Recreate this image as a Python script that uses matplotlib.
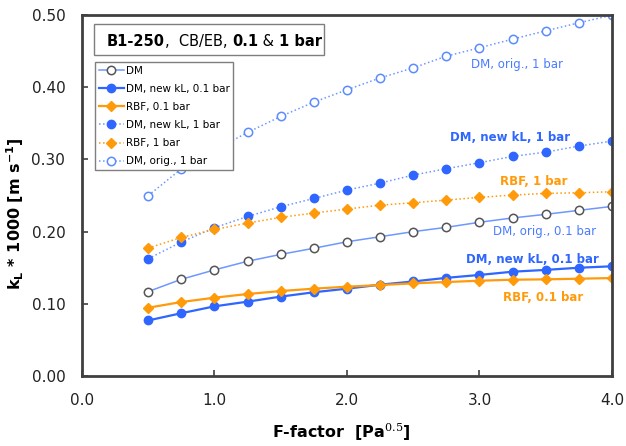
import matplotlib
matplotlib.use("Agg")
import matplotlib.pyplot as plt
from matplotlib.patches import Rectangle
from matplotlib.ticker import FormatStrFormatter, MultipleLocator

plt.rcParams['font.family'] = ['DejaVu Sans']
plt.rcParams['mathtext.fontset'] = 'custom'
plt.rcParams['mathtext.rm'] = 'DejaVu Serif'
plt.rcParams['mathtext.bf'] = 'DejaVu Sans:bold'
plt.rcParams['mathtext.it'] = 'DejaVu Sans:italic'

# F-factor [Pa^0.5]
f_factor = [0.5, 0.75, 1.0, 1.25, 1.5, 1.75, 2.0, 2.25, 2.5, 2.75, 3.0, 3.25, 3.5, 3.75, 4.0]

# kL * 1000 [m/s]
dm_orig_01 = [0.117, 0.134, 0.147, 0.159, 0.1685, 0.177, 0.186, 0.193, 0.200, 0.206,
              0.213, 0.219, 0.224, 0.2295, 0.235]
dm_new_01 = [0.077, 0.087, 0.0965, 0.103, 0.110, 0.116, 0.121, 0.1265, 0.131, 0.136,
             0.140, 0.1445, 0.147, 0.150, 0.152]
rbf_01 = [0.0946, 0.1025, 0.1085, 0.1136, 0.1177, 0.121, 0.1237, 0.126, 0.1284, 0.1302,
          0.132, 0.1334, 0.1339, 0.1348, 0.1357]
dm_new_1 = [0.1625, 0.1856, 0.2054, 0.2211, 0.2345, 0.246, 0.2576, 0.2673, 0.2784, 0.2872,
            0.2955, 0.3043, 0.3102, 0.3186, 0.3255]
rbf_1 = [0.1773, 0.192, 0.203, 0.2119, 0.2198, 0.2258, 0.2313, 0.2368, 0.240, 0.2438,
         0.2475, 0.2507, 0.253, 0.2539, 0.2553]
dm_orig_1 = [0.25, 0.287, 0.313, 0.3375, 0.3597, 0.3795, 0.3966, 0.413, 0.427, 0.4432,
             0.4548, 0.4668, 0.4783, 0.4894, 0.500]

blue = '#2f66ff'
light_blue = '#6e98ff'
orange = '#ff9a0a'
dark = '#404040'

fig = plt.figure(figsize=(6.26, 4.46), dpi=100)
ax = fig.add_axes([0.131, 0.157, 0.8466, 0.809])

ax.plot(f_factor, dm_orig_01, '-', color=light_blue, lw=1.1, marker='o', ms=6,
        mfc='white', mec='#555555', mew=1.1, label='DM')
ax.plot(f_factor, dm_new_01, '-', color=blue, lw=1.6, marker='o', ms=6,
        mfc=blue, mec=blue, label='DM, new kL, 0.1 bar')
ax.plot(f_factor, rbf_01, '-', color=orange, lw=1.6, marker='D', ms=4.8,
        mfc=orange, mec=orange, label='RBF, 0.1 bar')
ax.plot(f_factor, dm_new_1, ':', color=light_blue, lw=1.1, marker='o', ms=6,
        mfc=blue, mec=blue, label='DM, new kL, 1 bar')
ax.plot(f_factor, rbf_1, ':', color=orange, lw=1.1, marker='D', ms=4.8,
        mfc=orange, mec=orange, label='RBF, 1 bar')
ax.plot(f_factor, dm_orig_1, ':', color=light_blue, lw=1.1, marker='o', ms=6,
        mfc='white', mec='#5b8cff', mew=1.1, label='DM, orig., 1 bar')

ax.set_xlim(0, 4)
ax.set_ylim(0, 0.5)
ax.xaxis.set_major_locator(MultipleLocator(1.0))
ax.yaxis.set_major_locator(MultipleLocator(0.1))
ax.xaxis.set_major_formatter(FormatStrFormatter('%.1f'))
ax.yaxis.set_major_formatter(FormatStrFormatter('%.2f'))
ax.tick_params(direction='in', length=4, width=1.2, color=dark, labelsize=11,
               labelcolor='#222222', pad=12)
for sp in ax.spines.values():
    sp.set_linewidth(2.0)
    sp.set_color(dark)

ax.set_xlabel(r'F-factor  [Pa$^{\mathrm{0.5}}$]', fontsize=11.5, fontweight='bold')
ax.set_ylabel(r'k$_\mathbf{L}$ * 1000 [m s$^{\mathbf{-1}}$]', fontsize=11.5, fontweight='bold')
ax.xaxis.set_label_coords(0.49, -0.125)
ax.yaxis.set_label_coords(-0.106, 0.45)

leg = ax.legend(loc='upper left', bbox_to_anchor=(0.0245, 0.870), borderaxespad=0,
                fontsize=7.5, handlelength=2.4, handletextpad=0.2, labelspacing=0.78,
                borderpad=0.35, fancybox=False, framealpha=1)
leg.get_frame().set_edgecolor('#7f7f7f')
leg.get_frame().set_linewidth(1.0)

# title box
ax.add_patch(Rectangle((0.0226, 0.889), 0.434, 0.086, transform=ax.transAxes,
                       facecolor='white', edgecolor='#7f7f7f', lw=1.0, zorder=5))
pieces = [('B1-250', 'bold'), (',  CB/EB, ', 'normal'), ('0.1', 'bold'),
          (' & ', 'normal'), ('1 bar', 'bold')]
t = ax.text(0.047, 0.906, pieces[0][0], transform=ax.transAxes, fontsize=10.5,
            fontweight=pieces[0][1], va='bottom', zorder=6)
for s, w in pieces[1:]:
    t = ax.annotate(s, xy=(1, 0), xycoords=t, va='bottom', fontsize=10.5,
                    fontweight=w, zorder=6)

# series labels
ax.text(3.285, 0.432, 'DM, orig., 1 bar', color='#4a7cff', fontsize=8.5, ha='center', va='center')
ax.text(3.233, 0.331, 'DM, new kL, 1 bar', color=blue, fontsize=8.5, fontweight='bold',
        ha='center', va='center')
ax.text(3.406, 0.270, 'RBF, 1 bar', color=orange, fontsize=8.5, fontweight='bold',
        ha='center', va='center')
ax.text(3.49, 0.2008, 'DM, orig., 0.1 bar', color='#4a7cff', fontsize=8.5, ha='center', va='center')
ax.text(3.40, 0.162, 'DM, new kL, 0.1 bar', color=blue, fontsize=8.5, fontweight='bold',
        ha='center', va='center')
ax.text(3.48, 0.109, 'RBF, 0.1 bar', color=orange, fontsize=8.5, fontweight='bold',
        ha='center', va='center')

fig.savefig('out.png', dpi=100)
